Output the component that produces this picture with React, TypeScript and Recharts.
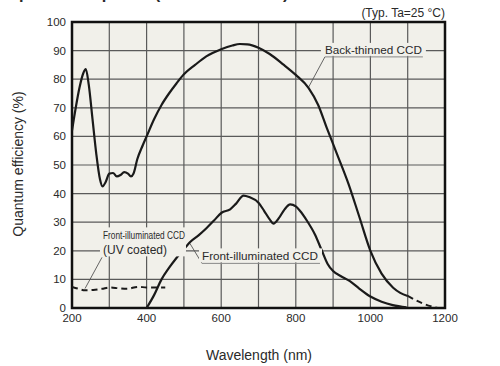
import React from 'react';
import {
  ComposedChart, Line, XAxis, YAxis, CartesianGrid, ReferenceArea,
  ReferenceLine, ReferenceDot, Customized,
} from 'recharts';

const xGridTicks = [200, 300, 400, 500, 600, 700, 800, 900, 1000, 1100, 1200];
const xLabelTicks = [200, 400, 600, 800, 1000, 1200];
const yTicks = [0, 10, 20, 30, 40, 50, 60, 70, 80, 90, 100];

const backWl = [200, 210, 220, 230, 237, 245, 255, 265, 275, 282, 290, 300, 310, 320, 330, 340, 350, 358, 365, 375, 390, 400, 420, 440, 460, 480, 500, 530, 560, 600, 630, 650, 670, 700, 730, 766, 800, 834, 860, 883, 910, 941, 970, 1000, 1030, 1061, 1080, 1100];
const backQe = [62, 70, 77, 82, 83.5, 78, 66, 54, 45, 42.5, 44, 47, 47.2, 46, 46.5, 47.5, 47, 46, 47, 52, 57, 60, 66, 71, 75, 78.5, 81.7, 85, 88, 90.5, 91.8, 92.3, 92.2, 91, 88.8, 85.2, 81.5, 77, 71, 63, 54, 43.5, 32, 20, 12, 7.1, 5.3, 4.2];

const backTailWl = [1100, 1140, 1180];
const backTailQe = [4.2, 1.6, 0];

const frontWl = [400, 420, 440, 460, 480, 500, 516, 540, 561, 580, 601, 624, 640, 660, 675, 700, 715, 730, 740, 755, 770, 785, 800, 811, 830, 851, 870, 885, 900, 920, 945, 970, 1000, 1030, 1060, 1097];
const frontQe = [0, 4.5, 10, 14, 17.5, 20.5, 23, 25.5, 28, 30.5, 33.3, 34.5, 36.5, 39.3, 38.8, 36.8, 34, 31, 29.5, 31.5, 34.5, 36.2, 35.5, 34, 30.5, 25.8, 20, 15.5, 12.9, 11.2, 9.4, 6.8, 4, 2.2, 1, 0.2];

const uvWl = [200, 215, 235, 257, 280, 302, 325, 347, 378, 400, 436, 450];
const uvQe = [7.4, 6.8, 6.2, 6.3, 6.7, 7.2, 6.9, 6.7, 7.4, 7.2, 7.2, 7.2];

const toPts = (xs: number[], ys: number[]) => xs.map((x, i) => ({ x, y: ys[i] }));
const backData = toPts(backWl, backQe);
const backTailData = toPts(backTailWl, backTailQe);
const frontData = toPts(frontWl, frontQe);
const uvData = toPts(uvWl, uvQe);

const BG = '#f1f0ea';
const INK = '#1a1a1a';
const TXT = '#2a2a2a';
const FONT = "'Liberation Sans', Arial, sans-serif";

const BackLabel = (p: any) => (
  <g>
    <rect x={p.cx - 4} y={p.cy - 14} width={105} height={13} fill={BG} />
    <text x={p.cx} y={p.cy - 3.2} fontSize={11.5} fill={TXT} textLength={97} lengthAdjust="spacingAndGlyphs">Back-thinned CCD</text>
    <line x1={p.cx} y1={p.cy} x2={p.cx + 98} y2={p.cy} stroke="#888" strokeWidth={1} />
  </g>
);

const FrontLabel = (p: any) => (
  <g>
    <rect x={p.cx - 3} y={p.cy - 15} width={123} height={14} fill={BG} />
    <text x={p.cx} y={p.cy - 3.5} fontSize={11.5} fill={TXT} textLength={116} lengthAdjust="spacingAndGlyphs">Front-illuminated CCD</text>
    <line x1={p.cx} y1={p.cy} x2={p.cx + 118} y2={p.cy} stroke="#888" strokeWidth={1} />
  </g>
);

const UvLabel = (p: any) => (
  <g>
    <rect x={p.cx - 2} y={p.cy - 30} width={86} height={29} fill={BG} />
    <text x={p.cx + 1} y={p.cy - 18.8} fontSize={10.5} fill={TXT} textLength={82} lengthAdjust="spacingAndGlyphs">Front-illuminated CCD</text>
    <text x={p.cx + 1} y={p.cy - 3.8} fontSize={12} fill={TXT} textLength={64} lengthAdjust="spacingAndGlyphs">(UV coated)</text>
  </g>
);

const Texts = () => (
  <g>
    <text x={8} y={-1} fontSize={16.4} fontWeight="bold" fill={TXT}>Spectral response (without window)</text>
    <text x={445} y={16.8} fontSize={12} fill={TXT} textAnchor="end">(Typ. Ta=25 °C)</text>
    <text x={259} y={360} fontSize={14} fill={TXT} textAnchor="middle">Wavelength (nm)</text>
    <text x={0} y={0} fontSize={14} fill={TXT} textAnchor="middle" transform="translate(23,164) rotate(-90)">Quantum efficiency (%)</text>
  </g>
);

export default function App() {
  return (
    <div style={{ position: 'absolute', left: 0, top: 0, fontFamily: FONT }}>
      <ComposedChart width={500} height={366} margin={{ top: 22, right: 55, bottom: 0, left: 0 }}>
        <CartesianGrid stroke="#5a5a5a" strokeWidth={1.2} fill={BG} fillOpacity={1} />
        <XAxis
          type="number" dataKey="x" domain={[200, 1200]} ticks={xGridTicks} interval={0}
          height={58} tickLine={false} axisLine={false} tickMargin={0}
          tick={{ fontSize: 11.5, fill: TXT }}
          tickFormatter={(v: number) => (xLabelTicks.includes(v) ? String(v) : '')}
          allowDataOverflow
        />
        <YAxis
          type="number" domain={[0, 100]} ticks={yTicks} interval={0} width={72}
          tickLine={false} axisLine={false} tickMargin={0}
          tick={{ fontSize: 11.5, fill: TXT }} allowDataOverflow
        />
        <ReferenceArea x1={200} x2={1200} y1={0} y2={100} fill="none" stroke="#111" strokeWidth={2.5} />
        <ReferenceLine segment={[{ x: 878, y: 87.8 }, { x: 833, y: 76.9 }]} stroke="#555" strokeWidth={0.9} />
        <ReferenceLine segment={[{ x: 548.5, y: 15.6 }, { x: 516, y: 22.6 }]} stroke="#555" strokeWidth={0.9} />
        <ReferenceLine segment={[{ x: 280.4, y: 17.7 }, { x: 234.9, y: 6.8 }]} stroke="#555" strokeWidth={0.9} />
        <ReferenceDot x={878} y={87.8} r={0} shape={BackLabel} />
        <ReferenceDot x={548.5} y={15.6} r={0} shape={FrontLabel} />
        <ReferenceDot x={280.4} y={17.7} r={0} shape={UvLabel} />
        <Line data={uvData} dataKey="y" type="monotone" stroke={INK} strokeWidth={2} strokeDasharray="6 4" dot={false} isAnimationActive={false} />
        <Line data={backTailData} dataKey="y" type="monotone" stroke={INK} strokeWidth={2} strokeDasharray="6 4" dot={false} isAnimationActive={false} />
        <Line data={frontData} dataKey="y" type="monotone" stroke={INK} strokeWidth={2.2} dot={false} isAnimationActive={false} />
        <Line data={backData} dataKey="y" type="monotone" stroke={INK} strokeWidth={2.2} dot={false} isAnimationActive={false} />
        <Customized component={Texts} />
      </ComposedChart>
    </div>
  );
}
